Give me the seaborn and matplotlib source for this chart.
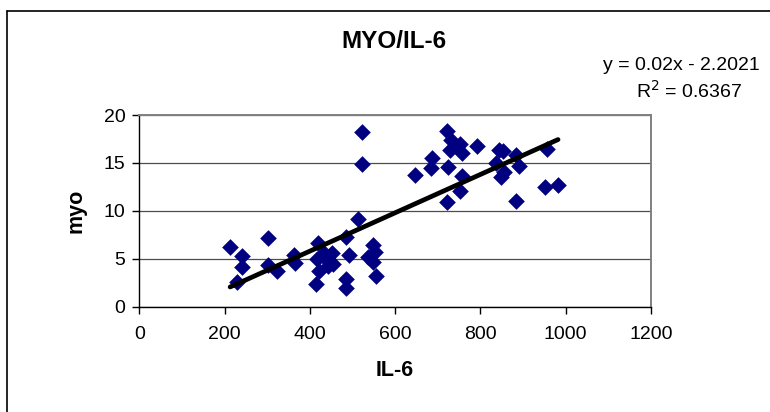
import matplotlib
matplotlib.use("Agg")
import matplotlib.pyplot as plt
from matplotlib.lines import Line2D
import numpy as np
import pandas as pd
import seaborn as sns

# IL-6 vs myoglobin measurements
il6 = [213, 240, 240, 228, 301, 301, 324, 363, 365, 418,
       416, 422, 414, 433, 440, 451, 443, 455, 485, 492,
       484, 484, 512, 522, 522, 547, 553, 537, 549, 555,
       647, 687, 684, 721, 732, 752, 729, 756, 746, 792,
       724, 756, 753, 721, 844, 852, 837, 855, 849, 883,
       891, 884, 955, 951, 982]
myo = [6.2, 5.3, 4.1, 2.6, 7.2, 4.4, 3.7, 5.4, 4.6, 6.6,
       5.0, 3.7, 2.4, 5.6, 4.9, 5.6, 4.2, 4.5, 7.3, 5.4,
       2.9, 1.9, 9.1, 18.2, 14.9, 6.4, 5.7, 5.2, 4.7, 3.2,
       13.7, 15.5, 14.5, 18.3, 17.4, 17.0, 16.4, 16.0, 16.7, 16.8,
       14.55, 13.6, 12.1, 10.9, 16.4, 16.2, 15.0, 14.1, 13.5, 15.8,
       14.7, 11.0, 16.5, 12.5, 12.7]

# Linear trendline as reported on the chart
slope = 0.02
intercept = -2.2021
r_squared = 0.6367

x_ticks = [0, 200, 400, 600, 800, 1000, 1200]
y_ticks = [0, 5, 10, 15, 20]

df = pd.DataFrame({"IL-6": il6, "myo": myo})

sns.set_theme(style="white")
plt.rcParams["font.family"] = ["Liberation Sans", "DejaVu Sans"]
plt.rcParams["text.color"] = "black"
plt.rcParams["axes.labelcolor"] = "black"
plt.rcParams["xtick.color"] = "black"
plt.rcParams["ytick.color"] = "black"

W, H = 770, 412
fig = plt.figure(figsize=(W / 100, H / 100), dpi=100)
fig.patch.set_facecolor("white")

# plot area in pixel coordinates
px_left, px_right, px_top, px_bottom = 139.3, 651.0, 115.0, 306.7
ax = fig.add_axes([px_left / W, 1 - px_bottom / H,
                   (px_right - px_left) / W, (px_bottom - px_top) / H])
ax.set_facecolor("white")

ax.set_xlim(0, 1200)
ax.set_ylim(0, 20)
ax.set_xticks(x_ticks)
ax.set_yticks(y_ticks)
ax.set_xticklabels([str(v) for v in x_ticks])
ax.set_yticklabels([str(v) for v in y_ticks])

ax.yaxis.grid(True, color="#4d4d4d", linewidth=0.9)
ax.xaxis.grid(False)
ax.set_axisbelow(True)

sns.scatterplot(data=df, x="IL-6", y="myo", ax=ax, marker="D", s=72,
                color="#000080", linewidth=0, zorder=3, legend=False)

xs = np.array([min(il6), max(il6)])
ax.plot(xs, slope * xs + intercept, color="black", linewidth=3.4,
        solid_capstyle="round", zorder=4)

for side in ("top", "right"):
    ax.spines[side].set_color("#808080")
    ax.spines[side].set_linewidth(1.4)
for side in ("left", "bottom"):
    ax.spines[side].set_color("#000000")
    ax.spines[side].set_linewidth(1.0)

ax.tick_params(axis="both", which="major", direction="out", length=5,
               width=1, color="black", labelsize=14, labelcolor="black",
               pad=5, left=True, bottom=True)
ax.tick_params(axis="x", pad=9)

ax.set_xlabel("IL-6", fontsize=15.5, fontweight="bold", labelpad=12,
              color="black")
ax.set_ylabel("myo", fontsize=15.5, fontweight="bold", labelpad=12,
              color="black")

fig.text(393.5 / W, 1 - 41 / H, "MYO/IL-6", fontsize=17.5, fontweight="bold",
         ha="center", va="center", color="black")
fig.text(760 / W, 1 - 66 / H, f"y = {slope}x - {abs(intercept)}",
         fontsize=14, ha="right", va="center", color="black")
fig.text(742 / W, 1 - 91 / H, f"R$^2$ = {r_squared}",
         fontsize=14, ha="right", va="center", color="black")

# outer chart frame
fig.add_artist(Line2D([7 / W, 7 / W], [0, 1 - 11 / H], color="black",
                      linewidth=1.2, transform=fig.transFigure))
fig.add_artist(Line2D([7 / W, 1], [1 - 11 / H, 1 - 11 / H], color="black",
                      linewidth=1.2, transform=fig.transFigure))

fig.savefig("out.png", dpi=100, facecolor="white")
